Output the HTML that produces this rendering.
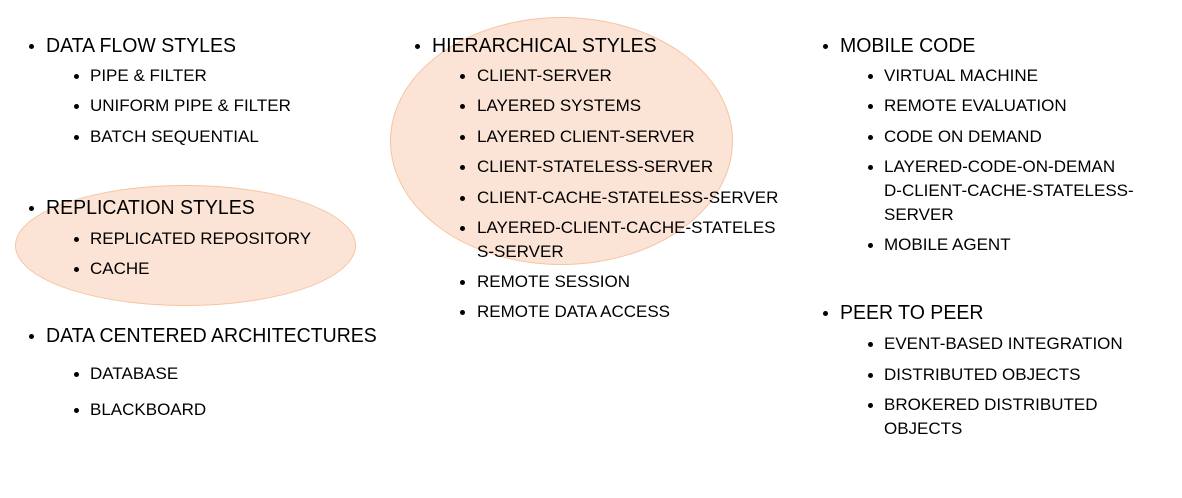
<!DOCTYPE html>
<html><head><meta charset="utf-8"><style>
html,body{margin:0;padding:0;background:#fff;}
body{width:1182px;height:498px;position:relative;overflow:hidden;font-family:"Liberation Sans",sans-serif;color:#000;}
.e{position:absolute;border-radius:50%;background:#fbe4d6;border:1px solid #f5c4a0;}
.t{position:absolute;white-space:nowrap;transform-origin:0 0;line-height:1;}
.h{font-size:20px;transform:scaleX(0.975);}
.s{font-size:17px;}
.b{position:absolute;width:5px;height:5px;border-radius:50%;background:#000;}
</style></head><body>
<div class="e" style="left:15px;top:185px;width:339px;height:119px;"></div>
<div class="e" style="left:390px;top:17px;width:341px;height:246px;"></div>

<!-- col 1 -->
<div class="b" style="left:29px;top:44px"></div><div class="t h" style="left:46px;top:36px">DATA FLOW STYLES</div>
<div class="b" style="left:74px;top:74px"></div><div class="t s" style="left:90px;top:67px">PIPE &amp; FILTER</div>
<div class="b" style="left:74px;top:104px"></div><div class="t s" style="left:90px;top:97px">UNIFORM PIPE &amp; FILTER</div>
<div class="b" style="left:74px;top:135px"></div><div class="t s" style="left:90px;top:128px">BATCH SEQUENTIAL</div>
<div class="b" style="left:29px;top:206px"></div><div class="t h" style="left:46px;top:198px">REPLICATION STYLES</div>
<div class="b" style="left:74px;top:237px"></div><div class="t s" style="left:90px;top:230px">REPLICATED REPOSITORY</div>
<div class="b" style="left:74px;top:267px"></div><div class="t s" style="left:90px;top:260px">CACHE</div>
<div class="b" style="left:29px;top:334px"></div><div class="t h" style="left:46px;top:326px">DATA CENTERED ARCHITECTURES</div>
<div class="b" style="left:74px;top:372px"></div><div class="t s" style="left:90px;top:365px">DATABASE</div>
<div class="b" style="left:74px;top:408px"></div><div class="t s" style="left:90px;top:401px">BLACKBOARD</div>

<!-- col 2 -->
<div class="b" style="left:415px;top:44px"></div><div class="t h" style="left:432px;top:36px">HIERARCHICAL STYLES</div>
<div class="b" style="left:460px;top:74px"></div><div class="t s" style="left:477px;top:67px">CLIENT-SERVER</div>
<div class="b" style="left:460px;top:104px"></div><div class="t s" style="left:477px;top:97px">LAYERED SYSTEMS</div>
<div class="b" style="left:460px;top:135px"></div><div class="t s" style="left:477px;top:128px">LAYERED CLIENT-SERVER</div>
<div class="b" style="left:460px;top:165px"></div><div class="t s" style="left:477px;top:158px">CLIENT-STATELESS-SERVER</div>
<div class="b" style="left:460px;top:196px"></div><div class="t s" style="left:477px;top:189px">CLIENT-CACHE-STATELESS-SERVER</div>
<div class="b" style="left:460px;top:226px"></div><div class="t s" style="left:477px;top:219px">LAYERED-CLIENT-CACHE-STATELES</div>
<div class="t s" style="left:477px;top:243px">S-SERVER</div>
<div class="b" style="left:460px;top:280px"></div><div class="t s" style="left:477px;top:273px">REMOTE SESSION</div>
<div class="b" style="left:460px;top:310px"></div><div class="t s" style="left:477px;top:303px">REMOTE DATA ACCESS</div>

<!-- col 3 -->
<div class="b" style="left:823px;top:44px"></div><div class="t h" style="left:840px;top:36px">MOBILE CODE</div>
<div class="b" style="left:868px;top:74px"></div><div class="t s" style="left:884px;top:67px">VIRTUAL MACHINE</div>
<div class="b" style="left:868px;top:104px"></div><div class="t s" style="left:884px;top:97px">REMOTE EVALUATION</div>
<div class="b" style="left:868px;top:135px"></div><div class="t s" style="left:884px;top:128px">CODE ON DEMAND</div>
<div class="b" style="left:868px;top:165px"></div><div class="t s" style="left:884px;top:158px">LAYERED-CODE-ON-DEMAN</div>
<div class="t s" style="left:884px;top:182px">D-CLIENT-CACHE-STATELESS-</div>
<div class="t s" style="left:884px;top:206px">SERVER</div>
<div class="b" style="left:868px;top:243px"></div><div class="t s" style="left:884px;top:236px">MOBILE AGENT</div>
<div class="b" style="left:823px;top:311px"></div><div class="t h" style="left:840px;top:303px">PEER TO PEER</div>
<div class="b" style="left:868px;top:342px"></div><div class="t s" style="left:884px;top:335px">EVENT-BASED INTEGRATION</div>
<div class="b" style="left:868px;top:373px"></div><div class="t s" style="left:884px;top:366px">DISTRIBUTED OBJECTS</div>
<div class="b" style="left:868px;top:403px"></div><div class="t s" style="left:884px;top:396px">BROKERED DISTRIBUTED</div>
<div class="t s" style="left:884px;top:420px">OBJECTS</div>
</body></html>
